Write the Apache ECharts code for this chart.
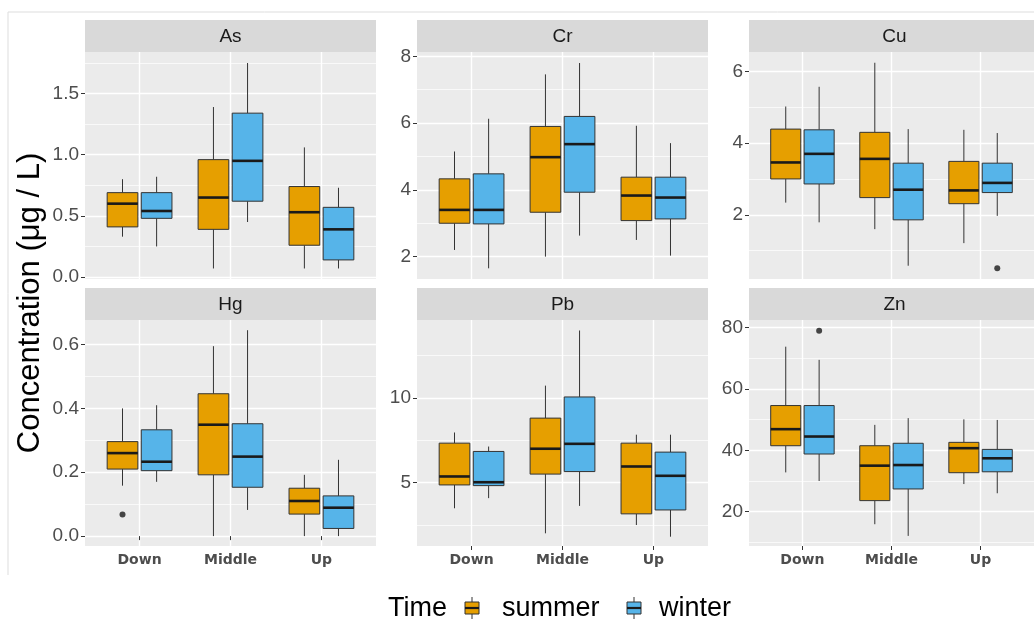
<!DOCTYPE html>
<html>
<head>
<meta charset="utf-8">
<script src="https://cdn.jsdelivr.net/npm/echarts@6/dist/echarts.min.js"></script>
<style>
  html, body { margin: 0; padding: 0; background: #fff; }
  #chart { width: 1034px; height: 631px; }
</style>
</head>
<body>
<div id="chart"></div>
<script>
// 分类与元素
const categories = ['Down', 'Middle', 'Up']
const metals = ['As', 'Cr', 'Cu', 'Hg', 'Pb', 'Zn']

// 箱线数据 [min, Q1, median, Q3, max]，依次为 Down, Middle, Up
const asSummer = [[0.33, 0.41, 0.60, 0.69, 0.80], [0.07, 0.39, 0.65, 0.96, 1.39], [0.07, 0.26, 0.53, 0.74, 1.06]]
const asWinter = [[0.25, 0.48, 0.54, 0.69, 0.82], [0.45, 0.62, 0.95, 1.34, 1.75], [0.07, 0.14, 0.39, 0.57, 0.73]]
const crSummer = [[2.2, 3.0, 3.4, 4.33, 5.15], [2.0, 3.33, 4.98, 5.9, 7.46], [2.5, 3.08, 3.83, 4.38, 5.92]]
const crWinter = [[1.65, 2.98, 3.4, 4.48, 6.13], [2.63, 3.93, 5.37, 6.2, 7.8], [2.03, 3.13, 3.77, 4.38, 5.4]]
const cuSummer = [[2.34, 3.0, 3.46, 4.39, 5.02], [1.6, 2.48, 3.56, 4.3, 6.24], [1.21, 2.31, 2.68, 3.49, 4.37]]
const cuWinter = [[1.79, 2.86, 3.7, 4.37, 5.57], [0.58, 1.86, 2.7, 3.44, 4.39], [1.97, 2.62, 2.89, 3.44, 4.28]]
const hgSummer = [[0.158, 0.21, 0.26, 0.296, 0.40], [0.0, 0.192, 0.349, 0.446, 0.595], [0.0, 0.069, 0.11, 0.15, 0.192]]
const hgWinter = [[0.17, 0.205, 0.233, 0.333, 0.41], [0.082, 0.153, 0.249, 0.352, 0.645], [0.0, 0.024, 0.089, 0.126, 0.239]]
const pbSummer = [[3.48, 4.86, 5.36, 7.33, 7.96], [2.0, 5.5, 7.0, 8.81, 10.73], [2.49, 3.15, 5.95, 7.33, 7.83]]
const pbWinter = [[4.08, 4.82, 5.02, 6.84, 7.13], [3.62, 5.65, 7.29, 10.06, 13.99], [1.8, 3.38, 5.4, 6.8, 7.83]]
const znSummer = [[32.8, 41.5, 46.9, 54.6, 73.8], [15.9, 23.6, 35.0, 41.5, 48.3], [29.0, 32.7, 40.7, 42.6, 50.1]]
const znWinter = [[30.0, 38.8, 44.5, 54.6, 69.5], [12.1, 27.4, 35.2, 42.3, 50.5], [26.0, 33.0, 37.4, 40.3, 49.9]]

// 离群点 [元素, 季节, 分类, 值]
const outliers = [
  ['Hg', 'summer', 'Down', 0.068],
  ['Cu', 'winter', 'Up', 0.51],
  ['Zn', 'winter', 'Down', 79.0]
]

// 各面板的 y 轴范围与刻度
const yLimits = [[-0.016, 1.84], [1.33, 8.13], [0.21, 6.54], [-0.031, 0.677], [1.25, 14.61], [8.8, 82.5]]
const yMajor = [[0, 0.5, 1.0, 1.5], [2, 4, 6, 8], [2, 4, 6], [0, 0.2, 0.4, 0.6], [5, 10], [20, 40, 60, 80]]
const yMinor = [[0.25, 0.75, 1.25, 1.75], [3, 5, 7], [1, 3, 5], [0.1, 0.3, 0.5], [2.5, 7.5, 12.5], [10, 30, 50, 70]]
const yDecimals = [1, 0, 0, 1, 0, 0]

const summerData = [asSummer, crSummer, cuSummer, hgSummer, pbSummer, znSummer]
const winterData = [asWinter, crWinter, cuWinter, hgWinter, pbWinter, znWinter]

// 布局
const colLeft = [85, 417, 749]
const panelW = 291
const stripTop = [20, 288]
const stripH = 32
const panelTop = [52, 320]
const panelH = [227, 226]

const SUMMER = '#E69F00'
const WINTER = '#56B4E9'
const DODGE = 0.1875
const HALF = 0.16875

const textFont = '"Liberation Sans", Arial, sans-serif'

// 箱线图绘制
const makeRender = (offset, fill) => (params, api) => {
  const x = api.value(0) + offset
  const lo = api.value(1)
  const q1 = api.value(2)
  const med = api.value(3)
  const q3 = api.value(4)
  const hi = api.value(5)
  const pHi = api.coord([x, hi])
  const pQ3 = api.coord([x, q3])
  const pQ1 = api.coord([x, q1])
  const pLo = api.coord([x, lo])
  const l = api.coord([x - HALF, q3])
  const r = api.coord([x + HALF, q1])
  const mL = api.coord([x - HALF, med])
  const mR = api.coord([x + HALF, med])
  const stroke = { stroke: '#333333', lineWidth: 1 }
  return {
    type: 'group',
    children: [
      { type: 'line', shape: { x1: pHi[0], y1: pHi[1], x2: pQ3[0], y2: pQ3[1] }, style: stroke },
      { type: 'line', shape: { x1: pQ1[0], y1: pQ1[1], x2: pLo[0], y2: pLo[1] }, style: stroke },
      { type: 'rect', shape: { x: l[0], y: l[1], width: r[0] - l[0], height: r[1] - l[1] },
        style: { fill: fill, stroke: '#333333', lineWidth: 1 } },
      { type: 'line', shape: { x1: mL[0], y1: mL[1], x2: mR[0], y2: mR[1] },
        style: { stroke: '#1A1A1A', lineWidth: 2.6 } }
    ]
  }
}

const grids = []
const xAxes = []
const yAxes = []
const yMinorAxes = []
const series = []
const graphics = []

metals.forEach((m, i) => {
  const row = Math.floor(i / 3)
  const col = i % 3
  grids.push({
    left: colLeft[col],
    top: panelTop[row],
    width: panelW,
    height: panelH[row],
    show: true,
    backgroundColor: '#EBEBEB',
    borderWidth: 0
  })
  xAxes.push({
    type: 'value',
    gridIndex: i,
    min: 0.4,
    max: 3.6,
    axisLine: { show: false },
    axisTick: {
      show: row === 1,
      customValues: [1, 2, 3],
      length: 4,
      lineStyle: { color: '#333333' }
    },
    axisLabel: {
      show: row === 1,
      customValues: [1, 2, 3],
      formatter: v => categories[Math.round(v) - 1],
      fontFamily: '"DejaVu Sans", sans-serif',
      fontWeight: 'bold',
      fontSize: 14,
      color: '#4D4D4D',
      margin: 7
    },
    splitLine: { show: true, lineStyle: { color: '#FFFFFF', width: 1.4 } }
  })
  yAxes.push({
    type: 'value',
    gridIndex: i,
    min: yLimits[i][0],
    max: yLimits[i][1],
    axisLine: { show: false },
    axisTick: { show: true, customValues: yMajor[i], length: 4, lineStyle: { color: '#333333' } },
    axisLabel: {
      customValues: yMajor[i],
      formatter: v => v.toFixed(yDecimals[i]),
      fontFamily: textFont,
      fontSize: 19,
      color: '#4D4D4D',
      margin: 6
    },
    splitLine: { show: true, lineStyle: { color: '#FFFFFF', width: 1.4 } }
  })
  yMinorAxes.push({
    type: 'value',
    gridIndex: i,
    position: 'left',
    min: yLimits[i][0],
    max: yLimits[i][1],
    axisLine: { show: false },
    axisTick: { show: false, customValues: yMinor[i] },
    axisLabel: { show: false, customValues: yMinor[i] },
    splitLine: { show: true, lineStyle: { color: '#FFFFFF', width: 0.7 } }
  })

  const seasons = [['summer', summerData[i], -DODGE, SUMMER], ['winter', winterData[i], DODGE, WINTER]]
  seasons.forEach(([name, data, offset, color]) => {
    series.push({
      type: 'custom',
      name: name,
      xAxisIndex: i,
      yAxisIndex: i,
      renderItem: makeRender(offset, color),
      encode: { x: 0, y: [1, 2, 3, 4, 5] },
      data: data.map((d, k) => [k + 1].concat(d)),
      silent: true,
      z: 3
    })
    const pts = outliers
      .filter(o => o[0] === m && o[1] === name)
      .map(o => [categories.indexOf(o[2]) + 1 + offset, o[3]])
    if (pts.length) {
      series.push({
        type: 'scatter',
        xAxisIndex: i,
        yAxisIndex: i,
        symbolSize: 6,
        itemStyle: { color: '#1A1A1A' },
        data: pts,
        silent: true,
        z: 4
      })
    }
  })

  // 分面标题条
  graphics.push({
    type: 'rect',
    shape: { x: colLeft[col], y: stripTop[row], width: panelW, height: stripH },
    style: { fill: '#D9D9D9' },
    silent: true
  })
  graphics.push({
    type: 'text',
    x: colLeft[col] + panelW / 2,
    y: stripTop[row] + stripH / 2 + 1,
    style: {
      text: m, fill: '#1A1A1A', font: '19px ' + textFont,
      textAlign: 'center', textVerticalAlign: 'middle'
    },
    silent: true
  })
})

// 外框线
graphics.push({ type: 'line', shape: { x1: 8, y1: 12, x2: 1034, y2: 12 }, style: { stroke: '#DDDDDD', lineWidth: 1 }, silent: true })
graphics.push({ type: 'line', shape: { x1: 8, y1: 12, x2: 8, y2: 575 }, style: { stroke: '#DDDDDD', lineWidth: 1 }, silent: true })

// y 轴标题
graphics.push({
  type: 'text',
  x: 30,
  y: 303,
  rotation: Math.PI / 2,
  style: {
    text: 'Concentration (μg / L)', fill: '#000000', font: '31px ' + textFont,
    textAlign: 'center', textVerticalAlign: 'middle'
  },
  silent: true
})

// 图例
const legendY = 608
const legendKey = (cx, fill) => ({
  type: 'group',
  silent: true,
  children: [
    { type: 'line', shape: { x1: cx, y1: legendY - 11, x2: cx, y2: legendY + 11 }, style: { stroke: '#333333', lineWidth: 1 } },
    { type: 'rect', shape: { x: cx - 7, y: legendY - 6, width: 14, height: 12 }, style: { fill: fill, stroke: '#333333', lineWidth: 1 } },
    { type: 'line', shape: { x1: cx - 7, y1: legendY, x2: cx + 7, y2: legendY }, style: { stroke: '#1A1A1A', lineWidth: 2.2 } }
  ]
})
const legendText = (x, text) => ({
  type: 'text', x: x, y: legendY + 1, silent: true,
  style: { text: text, fill: '#000000', font: '27px ' + textFont, textAlign: 'left', textVerticalAlign: 'middle' }
})
graphics.push(legendText(388, 'Time'))
graphics.push(legendKey(472, SUMMER))
graphics.push(legendText(502, 'summer'))
graphics.push(legendKey(634, WINTER))
graphics.push(legendText(659, 'winter'))

const chart = echarts.init(document.getElementById('chart'), null, { renderer: 'canvas' })
chart.setOption({
  animation: false,
  backgroundColor: '#FFFFFF',
  grid: grids,
  xAxis: xAxes,
  yAxis: yAxes.concat(yMinorAxes),
  series: series,
  graphic: graphics
})
</script>
</body>
</html>
